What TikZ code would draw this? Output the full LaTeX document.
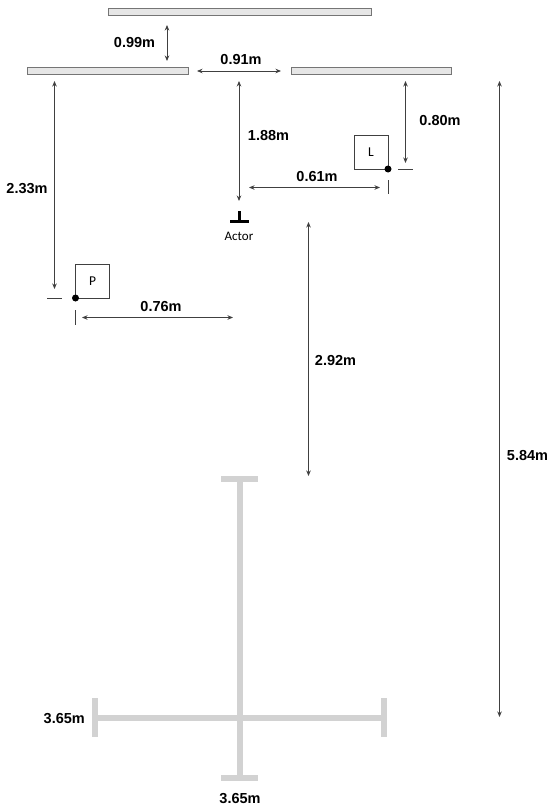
\documentclass[tikz,border=0pt]{standalone}
\usepackage{fontspec}
\setmainfont{Liberation Sans}
\newfontfamily\actorfont{Carlito}
\usetikzlibrary{arrows.meta}
\definecolor{wallfill}{HTML}{E6E6E6}
\definecolor{wallline}{HTML}{757575}
\definecolor{dimcol}{HTML}{404040}
\definecolor{beamcol}{HTML}{D2D2D2}
\tikzset{
  wall/.style={draw=wallline,fill=wallfill,line width=1.1pt,minimum height=7pt,inner sep=0pt,anchor=west},
  dimline/.style={{Stealth[length=5.5pt,width=4.5pt]}-{Stealth[length=5.5pt,width=4.5pt]},dimcol,line width=0.8pt},
  lbl/.style={font=\fontsize{14.5}{16}\selectfont\bfseries,inner sep=0pt},
  tick/.style={draw=dimcol,line width=0.8pt},
  lamp/.style={draw=black!75,line width=0.9pt,minimum size=34pt,inner sep=0pt,font=\actorfont\fontsize{13.5}{14}\selectfont},
  dot/.style={circle,fill=black,inner sep=0pt,minimum size=7pt},
  beam/.style={beamcol,line width=6pt}
}

\begin{document}
\begin{tikzpicture}[x=1pt,y=-1pt]
    \useasboundingbox (0,0) rectangle (556,808);
    % walls
    \node[wall,minimum width=263.5pt] (wt) at (107.5,12) {};
    \node[wall,minimum width=160.5pt] (wl) at (27,71) {};
    \node[wall,minimum width=160.5pt] (wr) at (290.5,71) {};
    % top and side gaps
    \coordinate (a1) at (167,25);
    \coordinate (a2) at (167,61);
    \draw[dimline] (a1) -- (a2);
    \node[lbl] (d99) at (134.5,42.5) {0.99m};
    \coordinate (b1) at (197,71);
    \coordinate (b2) at (281,71);
    \draw[dimline] (b1) -- (b2);
    \node[lbl] (d91) at (241,59.5) {0.91m};
    % actor
    \coordinate (c1) at (239,81);
    \coordinate (c2) at (239,201);
    \draw[dimline] (c1) -- (c2);
    \node[lbl] (d188) at (268.5,136) {1.88m};
    \coordinate (t1) at (239.2,211);
    \coordinate (t2) at (239.2,221);
    \draw[line width=3pt] (t1) -- (t2);
    \coordinate (t3) at (230,221);
    \coordinate (t4) at (248.7,221);
    \draw[line width=3pt] (t3) -- (t4);
    \node[font=\actorfont\fontsize{13}{14}\selectfont,inner sep=0pt] (actor) at (239,236) {Actor};
    % L
    \node[lamp] (l) at (371,152) {L};
    \node[dot] (ld) at (388,169) {};
    \coordinate (e1) at (405.5,81);
    \coordinate (e2) at (405.5,163);
    \draw[dimline] (e1) -- (e2);
    \node[lbl] (d80) at (440,120.5) {0.80m};
    \coordinate (lh1) at (398,169);
    \coordinate (lh2) at (413,169);
    \draw[tick] (lh1) -- (lh2);
    \coordinate (lv1) at (388,180);
    \coordinate (lv2) at (388,194);
    \draw[tick] (lv1) -- (lv2);
    \coordinate (f1) at (249,187.5);
    \coordinate (f2) at (380,187.5);
    \draw[dimline] (f1) -- (f2);
    \node[lbl] (d61) at (317,176.5) {0.61m};
    % P
    \node[lamp] (p) at (92.5,281) {P};
    \node[dot] (pd) at (75.5,298) {};
    \coordinate (g1) at (54.5,81);
    \coordinate (g2) at (54.5,289);
    \draw[dimline] (g1) -- (g2);
    \node[lbl] (d233) at (27,188.5) {2.33m};
    \coordinate (ph1) at (47,298);
    \coordinate (ph2) at (62,298);
    \draw[tick] (ph1) -- (ph2);
    \coordinate (pv1) at (75.5,310);
    \coordinate (pv2) at (75.5,325);
    \draw[tick] (pv1) -- (pv2);
    \coordinate (h1) at (82,317.5);
    \coordinate (h2) at (233,317.5);
    \draw[dimline] (h1) -- (h2);
    \node[lbl] (d76) at (161,306.5) {0.76m};
    % long ones
    \coordinate (i1) at (308.5,222);
    \coordinate (i2) at (308.5,476);
    \draw[dimline] (i1) -- (i2);
    \node[lbl] (d292) at (335.5,360.5) {2.92m};
    \coordinate (j1) at (499.5,81);
    \coordinate (j2) at (499.5,717);
    \draw[dimline] (j1) -- (j2);
    \node[lbl] (d584) at (527.5,455.5) {5.84m};
    % stage cross
    \coordinate (vt) at (239.5,479);
    \coordinate (vb) at (239.5,778.3);
    \draw[beam] (vt) -- (vb);
    \coordinate (hl) at (95,717.7);
    \coordinate (hr) at (383.7,717.7);
    \draw[beam] (hl) -- (hr);
    \coordinate (vt1) at (221,479);
    \coordinate (vt2) at (258,479);
    \draw[beam] (vt1) -- (vt2);
    \coordinate (vb1) at (221,778.3);
    \coordinate (vb2) at (258,778.3);
    \draw[beam] (vb1) -- (vb2);
    \coordinate (hl1) at (95,698);
    \coordinate (hl2) at (95,737);
    \draw[beam] (hl1) -- (hl2);
    \coordinate (hr1) at (383.7,698);
    \coordinate (hr2) at (383.7,737);
    \draw[beam] (hr1) -- (hr2);
    \node[lbl] (d365a) at (64.3,718.5) {3.65m};
    \node[lbl] (d365b) at (240,798.5) {3.65m};
  \end{tikzpicture}
\end{document}
